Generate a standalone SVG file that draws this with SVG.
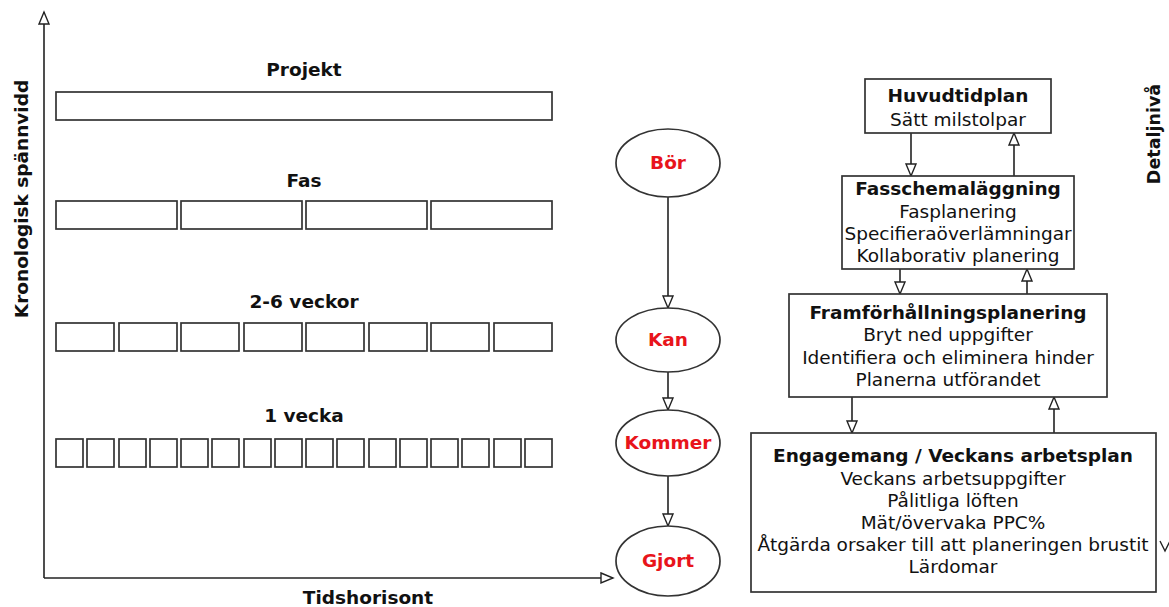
<svg xmlns="http://www.w3.org/2000/svg" width="1169" height="607" viewBox="0 0 1169 607">
<defs>
<marker id="arr" markerUnits="userSpaceOnUse" markerWidth="16" markerHeight="14" refX="13" refY="6.5" orient="auto">
<path d="M1,1.5 L13,6.5 L1,11.5 Z" fill="#fff" stroke="#222" stroke-width="1.4"/>
</marker>
</defs>
<style>
.b{fill:#fff;stroke:#333;stroke-width:1.7}
.c{stroke:#222;stroke-width:1.6;fill:none;marker-end:url(#arr)}
text{font-family:"DejaVu Sans","Verdana",sans-serif;fill:#111;text-anchor:middle}
.t{font-weight:bold;font-size:18.5px}
.r{font-size:18.5px}
.e{font-weight:bold;font-size:18.5px;fill:#e8141b}
</style>
<rect width="1169" height="607" fill="#fff"/>
<g id="connectors">
<line class="c" x1="44" y1="578" x2="44" y2="12"/>
<line class="c" x1="44" y1="578" x2="613" y2="578"/>
<line class="c" x1="668" y1="197" x2="668" y2="308"/>
<line class="c" x1="668" y1="372" x2="668" y2="410"/>
<line class="c" x1="668" y1="476" x2="668" y2="526"/>
<line class="c" x1="911" y1="133" x2="911" y2="176"/>
<line class="c" x1="1014" y1="176" x2="1014" y2="133"/>
<line class="c" x1="900" y1="269" x2="900" y2="294"/>
<line class="c" x1="1027" y1="294" x2="1027" y2="269"/>
<line class="c" x1="852" y1="397" x2="852" y2="433"/>
<line class="c" x1="1054" y1="433" x2="1054" y2="397"/>
<polyline points="1160,541 1165,551 1170,541" fill="none" stroke="#222" stroke-width="1.4"/>
</g>
<g id="axis-labels">
<text class="t" transform="translate(28,199) rotate(-90)">Kronologisk spännvidd</text>
<text class="t" x="368" y="604">Tidshorisont</text>
<text class="t" style="font-size:17.5px" transform="translate(1160,134) rotate(-90)">Detaljnivå</text>
</g>
<g id="projekt">
<text class="t" x="304" y="76">Projekt</text>
<rect class="b" x="56" y="92" width="496" height="28"/>
</g>
<g id="fas">
<text class="t" x="304" y="187">Fas</text>
<rect class="b" x="56" y="201" width="121" height="28"/>
<rect class="b" x="181" y="201" width="121" height="28"/>
<rect class="b" x="306" y="201" width="121" height="28"/>
<rect class="b" x="431" y="201" width="121" height="28"/>
</g>
<g id="veckor">
<text class="t" x="304" y="308">2-6 veckor</text>
<rect class="b" x="56" y="323" width="58" height="28"/>
<rect class="b" x="119" y="323" width="58" height="28"/>
<rect class="b" x="181" y="323" width="58" height="28"/>
<rect class="b" x="244" y="323" width="58" height="28"/>
<rect class="b" x="306" y="323" width="58" height="28"/>
<rect class="b" x="369" y="323" width="58" height="28"/>
<rect class="b" x="431" y="323" width="58" height="28"/>
<rect class="b" x="494" y="323" width="58" height="28"/>
</g>
<g id="vecka">
<text class="t" x="304" y="422">1 vecka</text>
<rect class="b" x="56" y="439" width="27" height="28"/>
<rect class="b" x="87" y="439" width="27" height="28"/>
<rect class="b" x="119" y="439" width="27" height="28"/>
<rect class="b" x="150" y="439" width="27" height="28"/>
<rect class="b" x="181" y="439" width="27" height="28"/>
<rect class="b" x="212" y="439" width="27" height="28"/>
<rect class="b" x="244" y="439" width="27" height="28"/>
<rect class="b" x="275" y="439" width="27" height="28"/>
<rect class="b" x="306" y="439" width="27" height="28"/>
<rect class="b" x="337" y="439" width="27" height="28"/>
<rect class="b" x="369" y="439" width="27" height="28"/>
<rect class="b" x="400" y="439" width="27" height="28"/>
<rect class="b" x="431" y="439" width="27" height="28"/>
<rect class="b" x="462" y="439" width="27" height="28"/>
<rect class="b" x="494" y="439" width="27" height="28"/>
<rect class="b" x="525" y="439" width="27" height="28"/>
</g>
<g id="bor"><ellipse class="b" cx="668" cy="163" rx="52" ry="34"/><text class="e" x="668" y="169">Bör</text></g>
<g id="kan"><ellipse class="b" cx="668" cy="340" rx="52" ry="32"/><text class="e" x="668" y="346">Kan</text></g>
<g id="kommer"><ellipse class="b" cx="668" cy="443" rx="52" ry="33"/><text class="e" x="668" y="449">Kommer</text></g>
<g id="gjort"><ellipse class="b" cx="668" cy="561" rx="52" ry="35"/><text class="e" x="668" y="567">Gjort</text></g>
<g id="huvudtidplan">
<rect class="b" x="865" y="79" width="186" height="54"/>
<text class="t" x="958" y="102">Huvudtidplan</text>
<text class="r" x="958" y="126">Sätt milstolpar</text>
</g>
<g id="fasschema">
<rect class="b" x="842" y="176" width="232" height="93"/>
<text class="t" x="958" y="195">Fasschemaläggning</text>
<text class="r" x="958" y="218">Fasplanering</text>
<text class="r" x="958" y="240">Specifieraöverlämningar</text>
<text class="r" x="958" y="262">Kollaborativ planering</text>
</g>
<g id="framforhallning">
<rect class="b" x="789" y="294" width="318" height="103"/>
<text class="t" x="948" y="319">Framförhållningsplanering</text>
<text class="r" x="948" y="341">Bryt ned uppgifter</text>
<text class="r" x="948" y="364">Identifiera och eliminera hinder</text>
<text class="r" x="948" y="386">Planerna utförandet</text>
</g>
<g id="engagemang">
<rect class="b" x="751" y="433" width="405" height="159"/>
<text class="t" x="953" y="462">Engagemang / Veckans arbetsplan</text>
<text class="r" x="953" y="485">Veckans arbetsuppgifter</text>
<text class="r" x="953" y="507">Pålitliga löften</text>
<text class="r" x="953" y="529">Mät/övervaka PPC%</text>
<text class="r" x="953" y="551">Åtgärda orsaker till att planeringen brustit</text>
<text class="r" x="953" y="573">Lärdomar</text>
</g>
</svg>
